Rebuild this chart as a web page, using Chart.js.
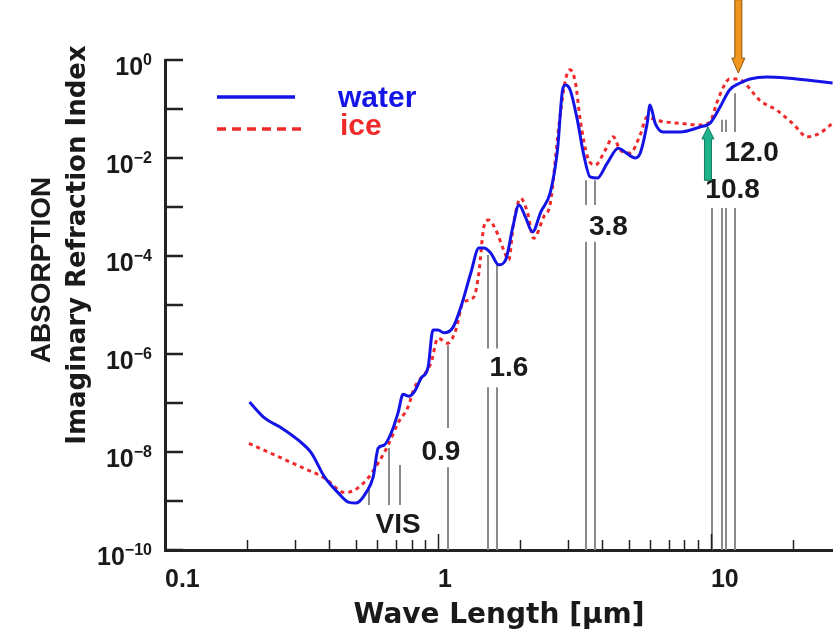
<!DOCTYPE html>
<html>
<head>
<meta charset="utf-8">
<title>Absorption: water and ice</title>
<script src="https://cdn.jsdelivr.net/npm/chart.js@4.4.1/dist/chart.umd.min.js"></script>
<style>
  html, body { margin: 0; padding: 0; background: #fff; }
  canvas { display: block; }
</style>
</head>
<body>
<canvas id="absorptionChart" width="833" height="630" style="width:833px;height:630px"></canvas>
<script>
// imaginary refraction index, wavelength in micrometres
const waterWavelength = [0.204, 0.232, 0.267, 0.308, 0.344, 0.384, 0.432, 0.469, 0.502, 0.546,
  0.579, 0.604, 0.635, 0.674, 0.714, 0.745, 0.784, 0.817, 0.867, 0.920, 0.959, 1.00, 1.052,
  1.135, 1.213, 1.319, 1.412, 1.472, 1.56, 1.67, 1.77, 1.88, 1.98, 2.09, 2.22, 2.38, 2.58,
  2.74, 2.86, 2.93, 3.05, 3.24, 3.41, 3.61, 3.84, 4.17, 4.58, 4.85, 5.28, 5.51, 5.84, 5.98,
  6.25, 6.68, 7.71, 9.12, 9.91, 10.8, 11.7, 12.8, 13.9, 16.0, 18.9, 22.4, 27.9];
const waterK = [1.05e-7, 4.9e-8, 3.1e-8, 1.74e-8, 9.5e-9, 3.1e-9, 1.45e-9, 9.5e-10, 9.1e-10, 1.5e-9,
  3.1e-9, 1.2e-8, 1.38e-8, 2.45e-8, 6.3e-8, 1.5e-7, 1.38e-7, 1.66e-7, 3.2e-7, 5.4e-7, 3.1e-6, 3.1e-6, 2.7e-6,
  3.5e-6, 9.1e-6, 4.5e-5, 1.45e-4, 1.45e-4, 1.15e-4, 6.6e-5, 8.3e-5, 3.9e-4, 1.1e-3, 6.3e-4, 3.1e-4, 7.9e-4, 2.0e-3,
  1.45e-2, 0.245, 0.31, 0.245, 0.060, 0.0126, 4.1e-3, 3.9e-3, 7.9e-3, 0.0158, 0.0132, 0.0100, 0.0126, 0.051, 0.12,
  0.051, 0.034, 0.034, 0.043, 0.051, 0.11, 0.245, 0.34, 0.41, 0.45, 0.43, 0.39, 0.34];

const iceWavelength = [0.203, 0.252, 0.316, 0.384, 0.454, 0.494, 0.555, 0.604, 0.657, 0.714,
  0.777, 0.817, 0.943, 1.00, 1.087, 1.163, 1.234, 1.353, 1.412, 1.472, 1.535, 1.629, 1.742,
  1.816, 1.893, 2.009, 2.13, 2.24, 2.44, 2.58, 2.77, 2.93, 3.05, 3.19, 3.32, 3.53, 3.77, 4.10,
  4.39, 4.65, 5.06, 5.51, 5.84, 6.25, 6.91, 7.71, 9.12, 9.91, 10.5, 11.1, 11.7, 12.6, 13.5,
  15.1, 17.4, 19.9, 22.6, 25.0, 27.9];
const iceK = [1.5e-8, 8.7e-9, 4.9e-9, 2.95e-9, 1.5e-9, 1.66e-9, 2.95e-9, 6.0e-9, 1.38e-8, 3.9e-8,
  8.3e-8, 1.95e-7, 6.6e-7, 2.1e-6, 1.66e-6, 3.1e-6, 1.1e-5, 1.45e-5, 4.5e-5, 3.9e-4, 5.4e-4, 3.4e-4, 1.32e-4,
  8.3e-5, 4.7e-4, 1.5e-3, 7.6e-4, 2.3e-4, 6.3e-4, 1.2e-3, 0.043, 0.39, 0.63, 0.34, 0.060, 0.0105, 7.2e-3, 0.0145,
  0.027, 0.0145, 0.0126, 0.030, 0.069, 0.060, 0.054, 0.051, 0.047, 0.054, 0.132, 0.28, 0.41, 0.41, 0.31,
  0.15, 0.095, 0.051, 0.027, 0.032, 0.051];

// axes
const xTickValues = [0.1, 1, 10];
const xMinorTicks = [0.2, 0.3, 0.4, 0.5, 0.6, 0.7, 0.8, 0.9, 2, 3, 4, 5, 6, 7, 8, 9, 20];
const yTickValues = [1e-10, 1e-9, 1e-8, 1e-7, 1e-6, 1e-5, 1e-4, 1e-3, 1e-2, 1e-1, 1];
// exponent shown next to "10" ("" = unlabelled tick)
const yTickExponents = ["\u221210", "", "\u22128", "", "\u22126", "", "\u22124", "", "\u22122", "", "0"];

// channel lines: [wavelength, from k, to k]
const channelLines = [
  [0.56, 1.9e-9, 8.3e-10], [0.662, 1.2e-8, 8.3e-10], [0.727, 5.4e-9, 8.3e-10],
  [1.09, 1.5e-6, 3.1e-8], [1.09, 4.9e-9, 1e-10],
  [1.52, 1.05e-4, 1.3e-6], [1.52, 2.1e-7, 1e-10],
  [1.65, 6.6e-5, 1.3e-6], [1.65, 2.1e-7, 1e-10],
  [3.50, 3.5e-3, 1.1e-3], [3.50, 1.95e-4, 1e-10],
  [3.77, 3.5e-3, 1.1e-3], [3.77, 1.95e-4, 1e-10],
  [11.0, 0.06, 0.034], [11.4, 0.06, 0.034], [12.3, 0.21, 0.034],
  [10.1, 9.5e-4, 1e-10], [11.0, 9.5e-4, 1e-10], [11.4, 9.5e-4, 1e-10], [12.3, 9.5e-4, 1e-10]
];
const channelLabels = [
  ["VIS", 0.714, 3.2e-10], ["0.9", 1.025, 1e-8], ["1.6", 1.82, 5.2e-7],
  ["3.8", 4.21, 3.9e-4], ["12.0", 14.1, 0.0126], ["10.8", 12.0, 2.2e-3]
];
// arrows: [wavelength, tail k, tip k]
const orangeArrow = [12.6, 17, 0.54];
const greenArrow = [9.75, 3.5e-3, 0.043];

const pairs = (xs, ys) => xs.map((v, i) => ({ x: v, y: ys[i] }));

function drawArrow(ctx, px, fromY, tipY, headLen, headW, shaftW, fill, edge) {
  const dir = tipY > fromY ? 1 : -1;
  const baseY = tipY - dir * headLen;
  ctx.beginPath();
  ctx.moveTo(px - shaftW, fromY);
  ctx.lineTo(px - shaftW, baseY);
  ctx.lineTo(px - headW, baseY);
  ctx.lineTo(px, tipY);
  ctx.lineTo(px + headW, baseY);
  ctx.lineTo(px + shaftW, baseY);
  ctx.lineTo(px + shaftW, fromY);
  ctx.closePath();
  ctx.fillStyle = fill;
  ctx.fill();
  ctx.strokeStyle = edge;
  ctx.lineWidth = 1;
  ctx.stroke();
}

const overlay = {
  id: "overlay",
  beforeDatasetsDraw(chart) {
    const { ctx, scales: { x, y } } = chart;
    ctx.save();
    ctx.strokeStyle = "#8a8a8a";
    ctx.lineWidth = 2;
    channelLines.forEach(([w, a, b]) => {
      const px = Math.round(x.getPixelForValue(w));
      ctx.beginPath();
      ctx.moveTo(px, y.getPixelForValue(a));
      ctx.lineTo(px, y.getPixelForValue(b));
      ctx.stroke();
    });
    ctx.fillStyle = "#1a1a1a";
    ctx.font = "bold 28px 'Liberation Sans'";
    ctx.textAlign = "center";
    ctx.textBaseline = "middle";
    channelLabels.forEach(([t, w, k]) => {
      ctx.fillText(t, x.getPixelForValue(w), y.getPixelForValue(k));
    });
    ctx.restore();
  },
  afterDatasetsDraw(chart) {
    const { ctx, chartArea, scales: { x, y } } = chart;
    ctx.save();

    // arrows
    drawArrow(ctx, x.getPixelForValue(orangeArrow[0]), y.getPixelForValue(orangeArrow[1]),
      y.getPixelForValue(orangeArrow[2]), 15, 6.5, 3.5, "#f0961c", "#8a5410");
    drawArrow(ctx, x.getPixelForValue(greenArrow[0]), y.getPixelForValue(greenArrow[1]),
      y.getPixelForValue(greenArrow[2]), 12, 6, 3.5, "#1db48c", "#137a5e");

    // inward tick marks
    ctx.strokeStyle = "#222";
    ctx.lineWidth = 2.5;
    yTickValues.forEach(v => {
      const py = Math.round(y.getPixelForValue(v));
      ctx.beginPath();
      ctx.moveTo(chartArea.left, py);
      ctx.lineTo(chartArea.left + 18, py);
      ctx.stroke();
    });
    ctx.lineWidth = 1.5;
    xMinorTicks.forEach(v => {
      const px = Math.round(x.getPixelForValue(v)) + 0.5;
      ctx.beginPath();
      ctx.moveTo(px, chartArea.bottom);
      ctx.lineTo(px, chartArea.bottom - 10);
      ctx.stroke();
    });
    xTickValues.forEach(v => {
      const px = Math.round(x.getPixelForValue(v)) + 0.5;
      ctx.beginPath();
      ctx.moveTo(px, chartArea.bottom);
      ctx.lineTo(px, chartArea.bottom - 16);
      ctx.stroke();
    });

    // y tick labels: 10 with raised exponent
    ctx.fillStyle = "#1a1a1a";
    ctx.textBaseline = "alphabetic";
    ctx.textAlign = "right";
    const right = chartArea.left - 13;
    yTickValues.forEach((v, i) => {
      const e = yTickExponents[i];
      if (!e) return;
      const py = y.getPixelForValue(v);
      ctx.font = "bold 16px 'Liberation Sans'";
      const ew = ctx.measureText(e).width;
      ctx.fillText(e, right, py + 5);
      ctx.font = "bold 25px 'Liberation Sans'";
      ctx.fillText("10", right - ew, py + 15);
    });

    // legend
    const ds = chart.data.datasets;
    ctx.lineWidth = 3.5;
    ctx.strokeStyle = ds[0].borderColor;
    ctx.beginPath(); ctx.moveTo(217, 97); ctx.lineTo(295, 97); ctx.stroke();
    ctx.strokeStyle = ds[1].borderColor;
    ctx.setLineDash([9, 6]);
    ctx.beginPath(); ctx.moveTo(217, 129); ctx.lineTo(302, 129); ctx.stroke();
    ctx.setLineDash([]);
    ctx.font = "bold 30px 'Liberation Sans'";
    ctx.textAlign = "left";
    ctx.fillStyle = ds[0].borderColor;
    ctx.fillText(ds[0].label, 338, 107);
    ctx.fillStyle = ds[1].borderColor;
    ctx.fillText(ds[1].label, 340, 135);

    // y axis title, two lines
    ctx.fillStyle = "#1a1a1a";
    ctx.textAlign = "center";
    ctx.save();
    ctx.translate(50, 270);
    ctx.rotate(-Math.PI / 2);
    ctx.font = "bold 28px 'Liberation Sans'";
    ctx.fillText("ABSORPTION", 0, 0);
    ctx.restore();
    ctx.save();
    ctx.translate(85, 245);
    ctx.rotate(-Math.PI / 2);
    ctx.font = "bold 26px 'DejaVu Sans'";
    ctx.fillText("Imaginary Refraction Index", 0, 0);
    ctx.restore();

    ctx.restore();
  }
};

Chart.defaults.font.family = "'Liberation Sans', Arial, sans-serif";
Chart.defaults.color = "#1a1a1a";

new Chart(document.getElementById("absorptionChart"), {
  type: "line",
  data: {
    datasets: [
      {
        label: "water",
        data: pairs(waterWavelength, waterK),
        borderColor: "#1414e6",
        borderWidth: 3,
        pointRadius: 0,
        cubicInterpolationMode: "monotone"
      },
      {
        label: "ice",
        data: pairs(iceWavelength, iceK),
        borderColor: "#f02a2a",
        borderWidth: 3,
        borderDash: [4, 4],
        pointRadius: 0,
        cubicInterpolationMode: "monotone"
      }
    ]
  },
  options: {
    responsive: false,
    animation: false,
    layout: { padding: { top: 60, right: 0, bottom: 0, left: 0 } },
    plugins: { legend: { display: false }, tooltip: { enabled: false } },
    scales: {
      x: {
        type: "logarithmic",
        min: 0.1,
        max: 28,
        afterFit(scale) { scale.height = 80; },
        afterBuildTicks(scale) { scale.ticks = xTickValues.map(v => ({ value: v })); },
        grid: { display: false, drawTicks: false },
        border: { display: true, width: 3, color: "#222" },
        ticks: {
          align: "start",
          padding: 15,
          autoSkip: false,
          maxRotation: 0,
          font: { size: 25, weight: "bold" },
          callback: v => String(v)
        },
        title: {
          display: true,
          text: "Wave Length [\u00B5m]",
          padding: { top: 0, bottom: 0 },
          font: { family: "'DejaVu Sans'", size: 28, weight: "bold", lineHeight: 1 }
        }
      },
      y: {
        type: "logarithmic",
        min: 1e-10,
        max: 1,
        afterFit(scale) { scale.width = 165; },
        afterBuildTicks(scale) { scale.ticks = yTickValues.map(v => ({ value: v })); },
        grid: { display: false, drawTicks: false },
        border: { display: true, width: 3, color: "#222" },
        ticks: { display: false }
      }
    }
  },
  plugins: [overlay]
});
</script>
</body>
</html>
